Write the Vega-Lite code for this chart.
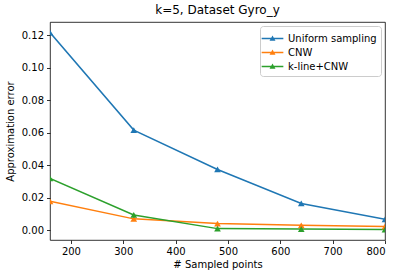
{
  "$schema": "https://vega.github.io/schema/vega-lite/v6.json",
  "width": 335,
  "height": 218,
  "autosize": {"type": "none"},
  "padding": {"left": 50, "top": 22, "right": 16, "bottom": 38},
  "background": "white",
  "title": {"text": "k=5, Dataset Gyro_y", "font": "DejaVu Sans", "fontSize": 12, "fontWeight": "normal", "color": "black", "offset": 5},
  "config": {
    "view": {"stroke": "black", "strokeWidth": 0.8},
    "axis": {"grid": false, "labelFont": "DejaVu Sans", "titleFont": "DejaVu Sans", "labelFontSize": 10, "titleFontSize": 10, "titleFontWeight": "normal", "labelColor": "black", "titleColor": "black", "tickColor": "black", "domainColor": "black", "tickSize": 3.5, "domainWidth": 0.8, "tickWidth": 0.8, "labelPadding": 3}
  },
  "data": {"values": [
    {"x": 160, "y": 0.1215, "s": "Uniform sampling"},
    {"x": 320, "y": 0.0615, "s": "Uniform sampling"},
    {"x": 480, "y": 0.0373, "s": "Uniform sampling"},
    {"x": 640, "y": 0.0164, "s": "Uniform sampling"},
    {"x": 800, "y": 0.0066, "s": "Uniform sampling"},
    {"x": 160, "y": 0.0177, "s": "CNW"},
    {"x": 320, "y": 0.0069, "s": "CNW"},
    {"x": 480, "y": 0.0040, "s": "CNW"},
    {"x": 640, "y": 0.0029, "s": "CNW"},
    {"x": 800, "y": 0.0022, "s": "CNW"},
    {"x": 160, "y": 0.0318, "s": "k-line+CNW"},
    {"x": 320, "y": 0.0093, "s": "k-line+CNW"},
    {"x": 480, "y": 0.0009, "s": "k-line+CNW"},
    {"x": 640, "y": 0.0006, "s": "k-line+CNW"},
    {"x": 800, "y": 0.0003, "s": "k-line+CNW"}
  ]},
  "encoding": {
    "x": {"field": "x", "type": "quantitative", "scale": {"domain": [160, 800], "nice": false, "zero": false}, "axis": {"values": [200, 300, 400, 500, 600, 700, 800], "title": "# Sampled points", "domain": false, "titlePadding": 3}},
    "y": {"field": "y", "type": "quantitative", "scale": {"domain": [-0.0061, 0.128], "nice": false, "zero": false}, "axis": {"values": [0, 0.02, 0.04, 0.06, 0.08, 0.1, 0.12], "format": ".2f", "title": "Approximation error", "domain": false, "titlePadding": 6}},
    "color": {"field": "s", "type": "nominal", "sort": ["Uniform sampling", "CNW", "k-line+CNW"], "scale": {"domain": ["Uniform sampling", "CNW", "k-line+CNW"], "range": ["#1f77b4", "#ff7f0e", "#2ca02c"]},
      "legend": {"title": null, "orient": "top-right", "offset": 4, "labelFont": "DejaVu Sans", "labelFontSize": 10, "labelColor": "black", "strokeColor": "#cccccc", "fillColor": "white", "padding": 4, "cornerRadius": 3, "symbolType": "M-1.4,0H1.4M-0.22,0.2L0,-0.2L0.22,0.2Z", "symbolSize": 240, "symbolStrokeWidth": 1.5, "rowPadding": 0, "labelOffset": 7}}
  },
  "layer": [
    {"mark": {"type": "line", "strokeWidth": 1.5, "clip": true}},
    {"mark": {"type": "point", "shape": "triangle-up", "filled": true, "size": 45, "opacity": 1, "clip": true}}
  ]
}
